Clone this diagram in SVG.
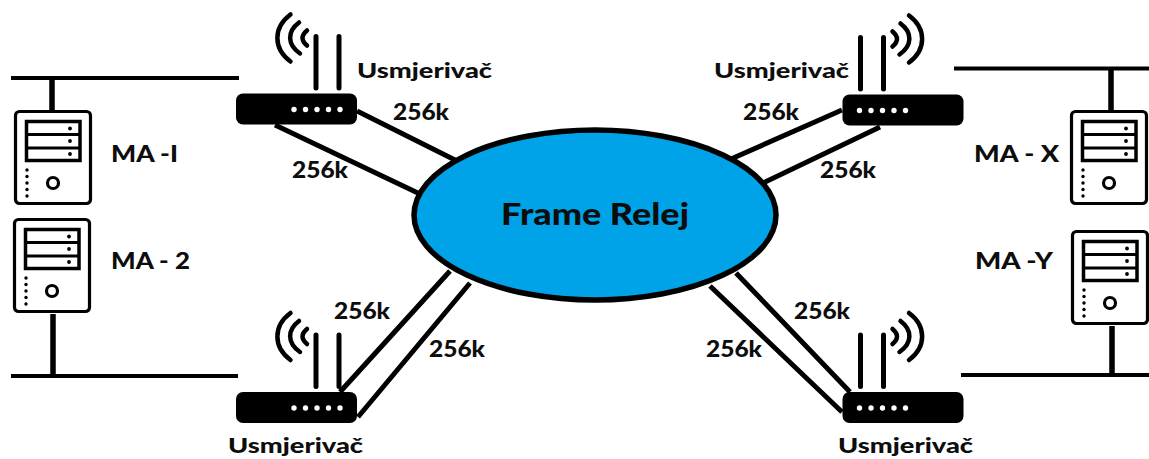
<svg xmlns="http://www.w3.org/2000/svg" width="1149" height="459" viewBox="0 0 1149 459">
<style>
text{font-family:"Lato","Noto Sans",sans-serif;font-weight:900;fill:#0d0d0d}
.l{font-size:23px}
.u{font-size:21.500px}
.m{font-size:22.500px}
.f{font-size:30px}
.w{fill:none;stroke:#000;stroke-linecap:round}
.c{fill:none;stroke:#000;stroke-width:5}
.b{fill:none;stroke:#000;stroke-width:4}
.t{fill:none;stroke:#000;stroke-width:5.500}
</style>
<defs>
<g id="router">
<rect x="0" y="0" width="121" height="31" rx="7" fill="#000"/>
<g fill="#fff"><circle cx="58" cy="16" r="2.700"/><circle cx="69.500" cy="16" r="2.700"/><circle cx="81" cy="16" r="2.700"/><circle cx="92.500" cy="16" r="2.700"/><circle cx="104" cy="16" r="2.700"/></g>
<path d="M80-5.500V-57M103-5.500V-57" fill="none" stroke="#000" stroke-width="5" stroke-linecap="round"/>
<path class="w" stroke-width="4.500" d="M54.500-79C37-66 37-45 54.500-32M63-71C51-62 51-49 64-40M71-63C65-58 65-53 71-48"/>
</g>
<g id="server">
<rect x="1.500" y="1.500" width="75" height="92" rx="4" fill="#fff" stroke="#000" stroke-width="3.200"/>
<rect x="12.500" y="11.500" width="53.500" height="39" fill="#fff" stroke="#000" stroke-width="3.500"/>
<path d="M13 24.500H66M13 38H66" stroke="#000" stroke-width="3"/>
<g fill="#000"><circle cx="56" cy="18.500" r="1.900"/><circle cx="56" cy="31" r="1.900"/><circle cx="56" cy="44" r="1.900"/>
<circle cx="13" cy="60" r="1.700"/><circle cx="13" cy="66.500" r="1.700"/><circle cx="13" cy="73" r="1.700"/><circle cx="13" cy="79.500" r="1.700"/><circle cx="13" cy="86" r="1.700"/></g>
<circle cx="39" cy="73" r="5.500" fill="none" stroke="#000" stroke-width="3.200"/>
</g>
</defs>
<g id="connectors">
<path class="c" d="M357 111L457 161M275 125L420 194M340 392L450 271M358 417L470 283M842 110L731 159M880 127L763 183M850 392L736 273M842 412L710 286"/>
<path class="b" d="M11 78H239M11 376H238M954 68.500H1149M961 375H1149"/>
<path class="t" d="M52 78V110M53 314V376M1111 68V110M1112 326V375"/>
</g>
<g id="cloud"><ellipse cx="595" cy="215" rx="181" ry="85" fill="#00a3e8" stroke="#000" stroke-width="5.500"/><text class="f" x="501" y="225" textLength="188" lengthAdjust="spacingAndGlyphs">Frame Relej</text></g>
<g id="router-tl"><use href="#router" x="236" y="93.500"/><text class="u" x="357" y="78" textLength="135" lengthAdjust="spacingAndGlyphs">Usmjerivač</text></g>
<g id="router-bl"><use href="#router" x="236" y="392"/><text class="u" x="228" y="453" textLength="135" lengthAdjust="spacingAndGlyphs">Usmjerivač</text></g>
<g id="router-tr"><use href="#router" transform="translate(963.500 94.500) scale(-1 1)"/><text class="u" x="714" y="78" textLength="135" lengthAdjust="spacingAndGlyphs">Usmjerivač</text></g>
<g id="router-br"><use href="#router" transform="translate(963.500 392) scale(-1 1)"/><text class="u" x="838" y="453" textLength="135" lengthAdjust="spacingAndGlyphs">Usmjerivač</text></g>
<g id="server-1"><use href="#server" x="14" y="110"/><text class="m" x="111" y="162" textLength="67" lengthAdjust="spacingAndGlyphs">MA -I</text></g>
<g id="server-2"><use href="#server" x="13" y="218"/><text class="m" x="111" y="269" textLength="79" lengthAdjust="spacingAndGlyphs">MA - 2</text></g>
<g id="server-x"><use href="#server" x="1070" y="110"/><text class="m" x="974" y="162" textLength="85" lengthAdjust="spacingAndGlyphs">MA - X</text></g>
<g id="server-y"><use href="#server" x="1071" y="230"/><text class="m" x="975" y="269" textLength="78" lengthAdjust="spacingAndGlyphs">MA -Y</text></g>
<g id="labels">
<text class="l" x="393" y="120" textLength="56" lengthAdjust="spacingAndGlyphs">256k</text><text class="l" x="292" y="178" textLength="56" lengthAdjust="spacingAndGlyphs">256k</text>
<text class="l" x="334" y="319" textLength="56" lengthAdjust="spacingAndGlyphs">256k</text><text class="l" x="429" y="357" textLength="56" lengthAdjust="spacingAndGlyphs">256k</text>
<text class="l" x="743" y="120" textLength="56" lengthAdjust="spacingAndGlyphs">256k</text><text class="l" x="820" y="178" textLength="56" lengthAdjust="spacingAndGlyphs">256k</text>
<text class="l" x="794" y="319" textLength="56" lengthAdjust="spacingAndGlyphs">256k</text><text class="l" x="706" y="357" textLength="56" lengthAdjust="spacingAndGlyphs">256k</text>
</g>
</svg>
